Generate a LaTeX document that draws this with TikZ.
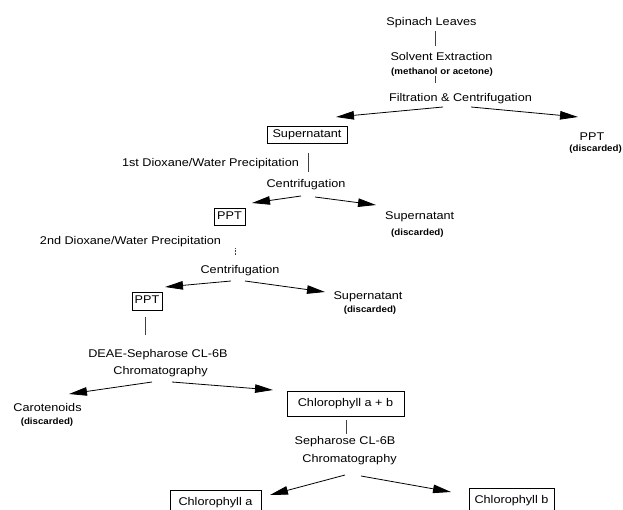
\documentclass[tikz,border=0pt]{standalone}
\usepackage{fontspec}
\setmainfont{Liberation Sans}[FakeStretch=1.13]
\newfontfamily\smallf{Liberation Sans}[FakeStretch=1.08]
\usetikzlibrary{arrows.meta,calc}
\begin{document}
\begin{tikzpicture}[x=1pt,y=-1pt,
  txt/.style={inner sep=0pt, text height=8pt, text depth=0pt, font=\fontsize{11.2}{13}\selectfont},
  sml/.style={inner sep=0pt, text height=6.5pt, text depth=0pt, font=\smallf\bfseries\fontsize{9}{10}\selectfont},
  boxed/.style={draw, line width=0.6pt, inner sep=0pt, text height=8pt, text depth=2pt, font=\fontsize{11.2}{13}\selectfont},
  arr/.style={-{Triangle[length=18pt,width=8.5pt]}, line width=0.8pt},
  vline/.style={line width=0.6pt, black!75}]
\useasboundingbox (0,0) rectangle (623,510);

% text nodes
\node[txt] (spin) at (431.5,22) {Spinach Leaves};
\node[txt] (solv) at (441.5,57) {Solvent Extraction};
\node[sml] (meth) at (442,71) {(methanol or acetone)};
\node[txt] (filt) at (460.5,98) {Filtration \& Centrifugation};
\node[boxed, minimum width=80pt, minimum height=17pt] (sup1) at (307,134.5) {Supernatant};
\node[txt] (ppt0) at (592,137) {PPT};
\node[sml, anchor=east] (disc0) at (622,148) {(discarded)};

\node[txt] (diox1) at (210.5,163) {1st Dioxane/Water Precipitation};
\node[txt] (cent1) at (306,184) {Centrifugation};
\node[boxed, minimum width=31pt, minimum height=17pt] (ppt1) at (229.5,216.5) {PPT};
\node[txt, anchor=west] (sup2) at (385,216) {Supernatant};
\node[sml, anchor=west] (disc2) at (391,232) {(discarded)};

\node[txt] (diox2) at (130.5,241) {2nd Dioxane/Water Precipitation};
\node[txt] (cent2) at (240,269) {Centrifugation};
\node[boxed, minimum width=30pt, minimum height=18pt] (ppt2) at (147,301) {PPT};
\node[txt] (sup3) at (368,295) {Supernatant};
\node[sml] (disc3) at (370,309) {(discarded)};

\node[txt] (deae) at (158,353) {DEAE-Sepharose CL-6B};
\node[txt] (chrom1) at (160.5,370) {Chromatography};
\node[txt] (carot) at (47.5,407) {Carotenoids};
\node[sml] (disc4) at (47,421) {(discarded)};
\node[boxed, minimum width=117pt, minimum height=25pt] (chlab) at (345.5,403.5) {Chlorophyll a + b};

\node[txt] (seph) at (345,440) {Sepharose CL-6B};
\node[txt] (chrom2) at (349.5,458) {Chromatography};
\node[boxed, minimum width=91pt, minimum height=25pt] (chla) at (215.5,502.5) {Chlorophyll a};
\node[boxed, minimum width=85pt, minimum height=25pt] (chlb) at (511.5,500.5) {Chlorophyll b};

% arrow tips
\coordinate (t1) at (336,117);
\coordinate (t2) at (578,117);
\coordinate (t3) at (252,203);
\coordinate (t4) at (376,205);
\coordinate (t5) at (165,287);
\coordinate (t6) at (325,292);
\coordinate (t7) at (69,394);
\coordinate (t8) at (273,390);
\coordinate (t9) at (270,495);
\coordinate (t10) at (451,492);

% vertical connectors
\draw[vline] ($(spin.center)+(3.5,9)$) -- ($(solv.center)+(-6.5,-11)$);
\draw[vline] ($(meth.center)+(-7,5)$) -- ($(filt.center)+(-25.5,-15)$);
\draw[vline] ($(sup1.center)+(1,18.5)$) -- ($(cent1.center)+(2,-12)$);
\draw[vline, densely dotted] ($(ppt1.center)+(5.5,31.5)$) -- ($(cent2.center)+(-5,-14)$);
\draw[vline] ($(ppt2.center)+(-2,16)$) -- ($(deae.center)+(-13,-18)$);
\draw[vline] ($(chlab.center)+(0.5,16.5)$) -- ($(seph.center)+(1,-6)$);

% arrows
\draw[arr] ($(filt.center)+(-17.5,9)$) -- (t1);
\draw[arr] ($(filt.center)+(10.5,9)$) -- (t2);
\draw[arr] ($(cent1.center)+(-5,12)$) -- (t3);
\draw[arr] ($(cent1.center)+(9,13)$) -- (t4);
\draw[arr] ($(cent2.center)+(-9,12)$) -- (t5);
\draw[arr] ($(cent2.center)+(5,12)$) -- (t6);
\draw[arr] ($(chrom1.center)+(-8.5,12)$) -- (t7);
\draw[arr] ($(chrom1.center)+(11.5,12)$) -- (t8);
\draw[arr] ($(chrom2.center)+(-4.5,17)$) -- (t9);
\draw[arr] ($(chrom2.center)+(11.5,18)$) -- (t10);
\end{tikzpicture}
\end{document}
